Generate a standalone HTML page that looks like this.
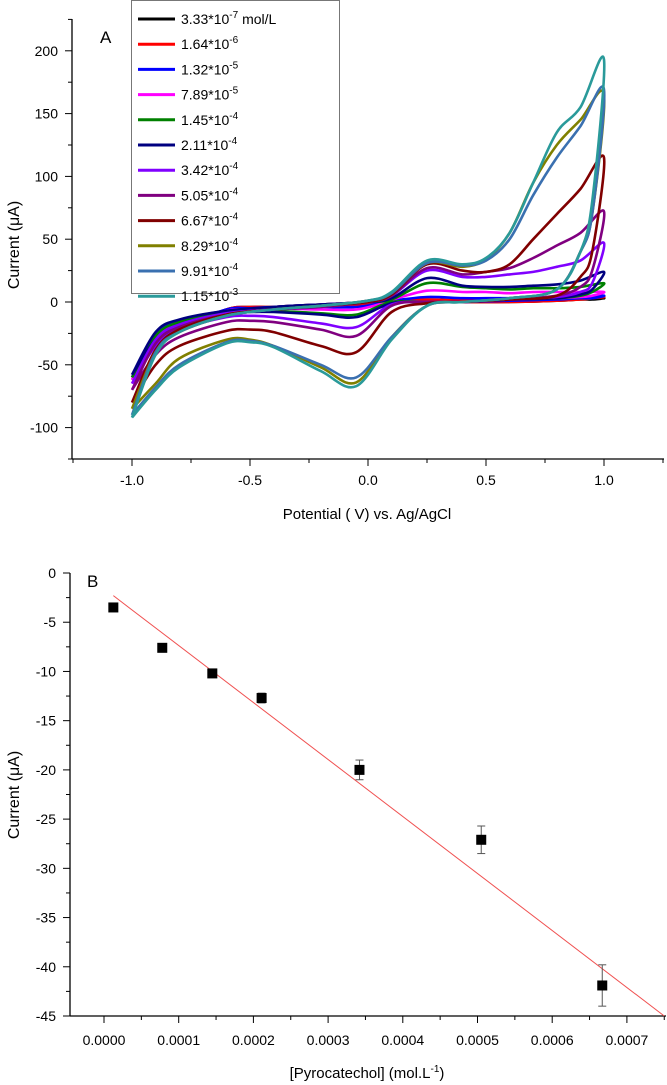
<!DOCTYPE html>
<html><head><meta charset="utf-8"><style>
body{margin:0;background:#fff}
svg{display:block;font-family:"Liberation Sans",sans-serif}
</style></head><body>
<svg id="s" width="667" height="1085" viewBox="0 0 667 1085"></svg>
<script>
// ---------- Panel A data ----------
const legendLabels=["3.33*10","1.64*10","1.32*10","7.89*10","1.45*10","2.11*10","3.42*10","5.05*10","6.67*10","8.29*10","9.91*10","1.15*10"];
const legendExp=["-7","-6","-5","-5","-4","-4","-4","-4","-4","-4","-4","-3"];
const colors=["#000000","#ff0000","#0000ff","#ff00ff","#008000","#000080","#8000ff","#800080","#800000","#808000","#3a70b0","#2a9a9a"];
const upE=[-1,-0.9,-0.8,-0.6,-0.4,-0.2,0,0.1,0.25,0.4,0.5,0.6,0.7,0.8,0.9,1.0];
const loE=[1.0,0.95,0.9,0.8,0.6,0.4,0.25,0.1,-0.05,-0.2,-0.4,-0.5,-0.6,-0.8,-0.9,-1.0];
const upI=[
[-60,-28,-16,-7,-4,-2,0,1,2,1,1,1,2,2,2,3],
[-62,-28,-16,-7,-4,-2,0,1,2,1,1,1,2,2,3,4],
[-60,-26,-15,-7,-4,-2,0,1,4,3,3,3,3,3,4,5],
[-62,-28,-16,-8,-5,-3,0,2,9,8,8,7,8,8,8,8],
[-60,-27,-16,-8,-5,-3,0,2,15,12,11,10,11,11,12,15],
[-58,-24,-14,-7,-4,-2,0,3,19,13,12,12,13,14,17,24],
[-65,-30,-18,-9,-6,-4,0,5,25,20,20,22,24,28,33,47],
[-70,-33,-20,-10,-6,-4,0,5,27,22,24,27,35,45,55,72],
[-80,-38,-22,-10,-6,-3,0,6,30,25,24,30,50,70,90,115],
[-85,-40,-24,-11,-6,-3,1,7,31,28,34,55,95,125,145,165],
[-90,-40,-24,-11,-6,-3,1,7,31,29,33,50,85,115,140,169],
[-92,-42,-24,-11,-6,-3,1,8,33,30,35,55,95,135,155,193]];
const loI=[
[3,2,2,1,0,0,0,0,-3,-3,-4,-4,-6,-22,-35,-60],
[4,3,2,1,0,0,0,0,-3,-3,-4,-4,-6,-22,-35,-62],
[5,3,3,2,1,0,0,0,-4,-4,-4,-5,-6,-20,-33,-60],
[8,5,4,3,2,0,0,0,-6,-6,-5,-6,-7,-20,-35,-62],
[15,8,5,3,2,0,0,0,-10,-9,-7,-7,-8,-20,-35,-60],
[24,10,6,3,2,0,0,-1,-12,-10,-8,-8,-9,-18,-30,-58],
[47,15,8,4,2,0,0,-2,-20,-17,-12,-11,-12,-22,-35,-65],
[72,25,12,5,2,0,0,-3,-27,-22,-16,-15,-16,-28,-42,-70],
[115,40,20,5,2,0,-1,-8,-40,-35,-24,-22,-23,-35,-50,-80],
[165,70,40,10,3,0,-3,-28,-64,-52,-35,-30,-30,-45,-65,-85],
[169,70,40,10,3,0,-3,-28,-60,-50,-35,-31,-32,-50,-68,-90],
[193,80,40,10,3,0,-3,-30,-67,-55,-36,-32,-33,-52,-70,-92]];
const xTicksA=[-1.0,-0.5,0.0,0.5,1.0];
const yTicksA=[-100,-50,0,50,100,150,200];
// ---------- Panel B data ----------
const concB=[0.0000125,0.000078,0.000145,0.000211,0.000342,0.000505,0.000667];
const currB=[-3.5,-7.6,-10.2,-12.7,-20.0,-27.1,-41.9];
const errB=[0.3,0.3,0.3,0.5,1.0,1.4,2.1];
const fitB=[[0.0000125,-2.3],[0.00075,-45]];
const xTicksB=[0,0.0001,0.0002,0.0003,0.0004,0.0005,0.0006,0.0007];
const yTicksB=[0,-5,-10,-15,-20,-25,-30,-35,-40,-45];

const NS="http://www.w3.org/2000/svg",S=document.getElementById('s');
function mk(t,a,p){const e=document.createElementNS(NS,t);for(const k in a)e.setAttribute(k,a[k]);(p||S).appendChild(e);return e;}
const xA=v=>368+v*236, yA=v=>302-v*1.256;
const xB=v=>104+v*747000, yB=v=>573-v*443/45;

function spline(pts){let d="M"+pts[0][0].toFixed(1)+","+pts[0][1].toFixed(1);
 for(let i=0;i<pts.length-1;i++){const p0=pts[i-1]||pts[i],p1=pts[i],p2=pts[i+1],p3=pts[i+2]||p2;
 d+=" C"+(p1[0]+(p2[0]-p0[0])/6).toFixed(1)+","+(p1[1]+(p2[1]-p0[1])/6).toFixed(1)+" "+(p2[0]-(p3[0]-p1[0])/6).toFixed(1)+","+(p2[1]-(p3[1]-p1[1])/6).toFixed(1)+" "+p2[0].toFixed(1)+","+p2[1].toFixed(1);}
 return d;}

// Panel A axes
let g=mk('g',{});  
mk('line',{x1:72,y1:19,x2:72,y2:459,stroke:'#000','stroke-width':1.3},g);
mk('line',{x1:72,y1:459,x2:664,y2:459,stroke:'#000','stroke-width':1.3},g);
for(let v=-125;v<=225;v+=25){const y=yA(v);mk('line',{x1:v%50===0?65:68,y1:y,x2:72,y2:y,stroke:'#000','stroke-width':1},g);}
yTicksA.forEach(v=>{const t=mk('text',{x:58,y:yA(v)+5,'text-anchor':'end','font-size':14},g);t.textContent=v;});
for(let v=-1.25;v<=1.26;v+=0.25){const x=xA(v);mk('line',{x1:x,y1:459,x2:x,y2:Math.abs(v*2%1)<0.01?466:463,stroke:'#000','stroke-width':1},g);}
xTicksA.forEach(v=>{const t=mk('text',{x:xA(v),y:485,'text-anchor':'middle','font-size':14},g);t.textContent=v.toFixed(1);});
let t=mk('text',{x:367,y:519,'text-anchor':'middle','font-size':15}); t.textContent="Potential ( V) vs. Ag/AgCl";  
t=mk('text',{x:0,y:0,'text-anchor':'middle','font-size':16,transform:'translate(19,245) rotate(-90)'}); t.textContent="Current (μA)";  
t=mk('text',{x:100,y:43,'font-size':17}); t.textContent="A";  

for(let s=0;s<12;s++){
 const pts=upE.map((e,i)=>[xA(e),yA(upI[s][i])]).concat(loE.slice(1).map((e,i)=>[xA(e),yA(loI[s][i+1])]));
 const p=mk('path',{d:spline(pts),fill:'none',stroke:colors[s],'stroke-width':2.6,'stroke-linejoin':'round'});
 
 
}
const lg=mk('g',{});  
mk('rect',{x:131.5,y:0.5,width:208,height:293,fill:'#fff',stroke:'#777','stroke-width':1},lg);
for(let s=0;s<12;s++){const y=19+s*25.2;
 const ln=mk('line',{x1:138,y1:y,x2:175,y2:y,stroke:colors[s],'stroke-width':3},lg);
 
 
 const tx=mk('text',{x:181,y:y+5,'font-size':14},lg);
 
 
 tx.appendChild(document.createTextNode(legendLabels[s]));
 const sp=mk('tspan',{dy:-6,'font-size':10},tx);sp.textContent=legendExp[s];
 if(s===0){const u=mk('tspan',{dy:6},tx);u.textContent=" mol/L";}
}

// Panel B axes
g=mk('g',{});  
mk('line',{x1:70,y1:573,x2:70,y2:1016,stroke:'#000','stroke-width':1.3},g);
mk('line',{x1:70,y1:1016,x2:666,y2:1016,stroke:'#000','stroke-width':1.3},g);
for(let v=0;v>=-45;v-=2.5){const y=yB(v);mk('line',{x1:v%5===0?63:66,y1:y,x2:70,y2:y,stroke:'#000','stroke-width':1},g);}
yTicksB.forEach(v=>{const tt=mk('text',{x:56,y:yB(v)+5,'text-anchor':'end','font-size':14},g);tt.textContent=v;});
for(let k=-1;k<=15;k++){const v=k*0.00005,x=xB(v);if(x<69||x>667)continue;mk('line',{x1:x,y1:1016,x2:x,y2:k%2===0?1023:1020,stroke:'#000','stroke-width':1},g);}
xTicksB.forEach(v=>{const tt=mk('text',{x:xB(v),y:1045,'text-anchor':'middle','font-size':14},g);tt.textContent=v.toFixed(4);});
t=mk('text',{x:367,y:1078,'text-anchor':'middle','font-size':15});  
t.appendChild(document.createTextNode("[Pyrocatechol] (mol.L"));let sp=mk('tspan',{dy:-6,'font-size':10},t);sp.textContent="-1";sp=mk('tspan',{dy:6},t);sp.textContent=")";
t=mk('text',{x:0,y:0,'text-anchor':'middle','font-size':16,transform:'translate(19,795) rotate(-90)'}); t.textContent="Current (μA)";  
t=mk('text',{x:87,y:587,'font-size':17}); t.textContent="B";  
const fl=mk('line',{x1:xB(fitB[0][0]),y1:yB(fitB[0][1]),x2:xB(fitB[1][0]),y2:yB(fitB[1][1]),stroke:'#f05050','stroke-width':1});


concB.forEach((c,i)=>{const x=xB(c),y=yB(currB[i]),y1=yB(currB[i]+errB[i]),y2=yB(currB[i]-errB[i]);
 const eg=mk('g',{});
 
 
 mk('line',{x1:x,y1:y1,x2:x,y2:y2,stroke:'#555','stroke-width':1},eg);
 mk('line',{x1:x-4,y1:y1,x2:x+4,y2:y1,stroke:'#555','stroke-width':1},eg);
 mk('line',{x1:x-4,y1:y2,x2:x+4,y2:y2,stroke:'#555','stroke-width':1},eg);
 const r=mk('rect',{x:x-5,y:y-5,width:10,height:10,fill:'#000'});
 
 
});
</script>
</body></html>
